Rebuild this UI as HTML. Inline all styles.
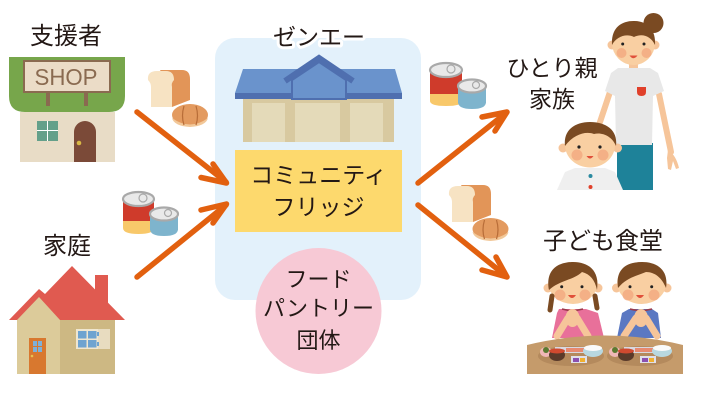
<!DOCTYPE html>
<html><head><meta charset="utf-8"><style>
html,body{margin:0;padding:0;background:#fff;}
svg{display:block;}
text{font-family:"Liberation Sans","Noto Sans CJK JP",sans-serif;fill:#231815;}
</style></head><body>
<svg width="710" height="400" viewBox="0 0 710 400" xmlns="http://www.w3.org/2000/svg">
<rect width="710" height="400" fill="#fff"/>

<!-- center blue panel -->
<rect x="215" y="38" width="206" height="262" rx="20" fill="#e3f1fb"/>

<!-- labels -->
<text x="66" y="44" font-size="24" text-anchor="middle">支援者</text>
<text x="67" y="254" font-size="24" text-anchor="middle">家庭</text>
<text x="319" y="45" font-size="23" text-anchor="middle" stroke="#fff" stroke-width="6" stroke-linejoin="round" paint-order="stroke">ゼンエー</text>
<text x="552" y="76" font-size="23" text-anchor="middle">ひとり親</text>
<text x="552" y="107" font-size="23" text-anchor="middle">家族</text>
<text x="603" y="249" font-size="24" text-anchor="middle">子ども食堂</text>

<!-- SHOP -->
<path d="M9,57 H125 V96 Q125,112 109,112 H25 Q9,112 9,96 Z" fill="#77a64b"/>
<rect x="20" y="112" width="95" height="50" fill="#e8dcc6"/>
<rect x="46" y="92" width="4" height="14" fill="#8a6a50"/>
<rect x="84" y="92" width="4" height="14" fill="#8a6a50"/>
<rect x="24" y="61" width="86" height="31" fill="#ebdcc7" stroke="#8a6a50" stroke-width="2"/>
<text x="66" y="85" font-size="23" text-anchor="middle" textLength="63" lengthAdjust="spacingAndGlyphs" style="fill:#8a6a50;font-family:'Liberation Sans',sans-serif">SHOP</text>
<rect x="37" y="121" width="21" height="20" fill="#fff"/>
<rect x="37" y="121" width="10" height="9" fill="#64a08a"/>
<rect x="48" y="121" width="10" height="9" fill="#64a08a"/>
<rect x="37" y="131" width="10" height="10" fill="#64a08a"/>
<rect x="48" y="131" width="10" height="10" fill="#64a08a"/>
<path d="M74,162 V132 A11,11 0 0 1 96,132 V162 Z" fill="#7b4a38"/>
<circle cx="79" cy="143" r="2.3" fill="#d8b845"/>

<!-- bread left -->
<g>
<path d="M160,70 H182 Q190,70 190,79 V100 L172,107 L165,78 Z" fill="#e29558"/>
<path d="M148,80 Q147,71 157,71 H166 Q174,71 174,80 Q171,83 172,87 V107 H151 V87 Q151,83 148,80 Z" fill="#f7e3c3"/>
<ellipse cx="190" cy="115" rx="18" ry="11" fill="#e39a5f"/>
<path d="M172,118 Q190,131 208,118 Q206,126 190,127 Q174,126 172,118 Z" fill="#f2c899"/>
<path d="M184,106 Q181,116 184,125 M196,106 Q199,116 196,125" stroke="#b86d38" stroke-width="1.2" fill="none"/>
</g>

<!-- bread right -->
<g>
<path d="M461,185 H483 Q491,185 491,194 V215 L473,222 L466,193 Z" fill="#e29558"/>
<path d="M449,195 Q448,186 458,186 H467 Q475,186 475,195 Q472,198 473,202 V222 H452 V202 Q452,198 449,195 Z" fill="#f7e3c3"/>
<ellipse cx="490.5" cy="229" rx="18" ry="11" fill="#e39a5f"/>
<path d="M472.5,232 Q490.5,245 508.5,232 Q506.5,240 490.5,241 Q474.5,240 472.5,232 Z" fill="#f2c899"/>
<path d="M484.5,220 Q481.5,230 484.5,239 M496.5,220 Q499.5,230 496.5,239" stroke="#b86d38" stroke-width="1.2" fill="none"/>
</g>

<!-- cans left -->
<g>
<rect x="123" y="199" width="31" height="22" fill="#cf3b2b"/>
<path d="M123,221 H154 V228 Q154,234 138.5,234 Q123,234 123,228 Z" fill="#f8c86a"/>
<ellipse cx="138.5" cy="199" rx="15.5" ry="7" fill="#e9e9e9" stroke="#a9a9a9" stroke-width="2.2"/>
<circle cx="143" cy="198" r="4" fill="none" stroke="#a9a9a9" stroke-width="1.2"/>
<rect x="150" y="214" width="28" height="16" fill="#7eb4cd"/>
<path d="M150,229 Q150,236 164,236 Q178,236 178,229 Z" fill="#7eb4cd"/>
<ellipse cx="164" cy="214" rx="14" ry="6.5" fill="#e9e9e9" stroke="#a9a9a9" stroke-width="2.2"/>
<circle cx="168" cy="213" r="3.5" fill="none" stroke="#a9a9a9" stroke-width="1.2"/>
</g>

<!-- cans right -->
<g>
<rect x="430" y="70" width="32" height="24" fill="#cf3b2b"/>
<path d="M430,94 H462 V101 Q462,106 446,106 Q430,106 430,101 Z" fill="#f8c86a"/>
<ellipse cx="446" cy="70" rx="16" ry="7" fill="#e9e9e9" stroke="#a9a9a9" stroke-width="2.2"/>
<circle cx="451" cy="69" r="4" fill="none" stroke="#a9a9a9" stroke-width="1.2"/>
<rect x="458" y="86" width="28" height="17" fill="#7eb4cd"/>
<path d="M458,102 Q458,109 472,109 Q486,109 486,102 Z" fill="#7eb4cd"/>
<ellipse cx="472" cy="86" rx="14" ry="6.5" fill="#e9e9e9" stroke="#a9a9a9" stroke-width="2.2"/>
<circle cx="476" cy="85" r="3.5" fill="none" stroke="#a9a9a9" stroke-width="1.2"/>
</g>

<!-- house -->
<g>
<rect x="95" y="275" width="13" height="30" fill="#e05a50"/>
<path d="M9,320 L39,289 L45,294 L72,266 L125,320 Z" fill="#e05a50"/>
<rect x="60" y="320" width="55" height="54" fill="#cdb883"/>
<path d="M17,320 L39,297 L60,320 V374 H17 Z" fill="#dccb9a"/>
<rect x="29" y="338" width="17" height="36" fill="#d8782f"/>
<rect x="33" y="341" width="4" height="5" fill="#7eb0d8"/>
<rect x="38" y="341" width="4" height="5" fill="#7eb0d8"/>
<rect x="33" y="347" width="4" height="5" fill="#7eb0d8"/>
<rect x="38" y="347" width="4" height="5" fill="#7eb0d8"/>
<circle cx="32" cy="356" r="1.3" fill="#e8c050"/>
<rect x="76" y="329" width="22" height="20" fill="#efe6d0"/>
<rect x="78" y="331" width="8.5" height="7.5" fill="#6ea3d0"/>
<rect x="88" y="331" width="8.5" height="7.5" fill="#6ea3d0"/>
<rect x="78" y="340" width="8.5" height="7.5" fill="#6ea3d0"/>
<rect x="88" y="340" width="8.5" height="7.5" fill="#6ea3d0"/>
<rect x="98" y="329" width="12" height="20" fill="#e8dcc0"/>
<rect x="97" y="332" width="2" height="4" fill="#6ea3d0"/>
<rect x="97" y="342" width="2" height="4" fill="#6ea3d0"/>
</g>

<!-- center building -->
<g>
<path d="M243,69 H395 L402,93 H235 Z" fill="#6a93cc"/>
<rect x="235" y="93" width="167" height="6" fill="#4f6faf"/>
<rect x="243" y="99" width="151" height="43" fill="#d8c9a0"/>
<rect x="252" y="103" width="33" height="39" fill="#e4dab9"/>
<rect x="295" y="103" width="45" height="39" fill="#e4dab9"/>
<rect x="350" y="103" width="33" height="39" fill="#e4dab9"/>
<path d="M292,80 L319,62 L346,80 V99 H292 Z" fill="#6a93cc" stroke="#4f6faf" stroke-width="2"/>
<path d="M285,81 L319,58 L353,81" fill="none" stroke="#4f6faf" stroke-width="6" stroke-linejoin="miter"/>
</g>

<!-- yellow box -->
<rect x="235" y="150" width="167" height="82" fill="#fdd96d"/>
<text x="318.5" y="183" font-size="23" text-anchor="middle">コミュニティ</text>
<text x="318.5" y="215" font-size="23" text-anchor="middle">フリッジ</text>

<!-- pink circle -->
<circle cx="318.5" cy="311" r="63" fill="#f7c9d5"/>
<text x="318.5" y="287" font-size="22" text-anchor="middle">フード</text>
<text x="318.5" y="316" font-size="22" text-anchor="middle">パントリー</text>
<text x="318.5" y="348" font-size="22" text-anchor="middle">団体</text>

<!-- arrows -->
<g stroke="#e2600f" stroke-width="5.5" stroke-linecap="round" stroke-linejoin="round" fill="none">
<path d="M137,112 L226,182"/>
<path d="M213,164 L226.5,183 L201,177.5"/>
<path d="M137,277 L226,205"/>
<path d="M213,223 L226.5,204 L201,210"/>
<path d="M418,183 L506,113"/>
<path d="M482,117 L507,112 L495,131"/>
<path d="M418,205 L506,276"/>
<path d="M482,270 L507,277 L496,257"/>
</g>

<!-- mother -->
<g>
<path d="M610,92 L598,128" stroke="#f6c59a" stroke-width="6" stroke-linecap="round"/>
<path d="M659,94 L671,152" stroke="#f6c59a" stroke-width="6" stroke-linecap="round"/>
<path d="M668,150 Q676,155 679,168 L676,169 L673,161 L671,170 L668,169 L667,158 Z" fill="#f6c59a"/>
<rect x="617" y="143" width="36" height="47" fill="#1e8299"/>
<rect x="629" y="60" width="9" height="11" fill="#f6c59a"/>
<path d="M618,68 H650 L658,73 L664,91 L653,96 L652,145 H616 L615,96 L605,91 L611,73 Z" fill="#e8e8e8"/>
<path d="M637,87 H646 V92 Q646,96 641.5,96 Q637,96 637,92 Z" fill="#e0402a"/>
<circle cx="653.5" cy="23" r="10" fill="#7a4a22"/>
<circle cx="612" cy="45" r="4.5" fill="#f6c59a"/>
<circle cx="655" cy="45" r="4.5" fill="#f6c59a"/>
<ellipse cx="633.5" cy="43" rx="21.5" ry="22" fill="#f9cfa2"/>
<path d="M612,45 C611,28 621,21 633.5,21 C647,21 656,29 655,45 C651,36 642,33 634,37 C626,33 616,37 612,45 Z" fill="#7a4a22"/>
<circle cx="622.7" cy="44" r="1.5" fill="#222"/>
<circle cx="644" cy="44" r="1.5" fill="#222"/>
<circle cx="621.5" cy="53" r="5" fill="#f3a77f" opacity="0.8"/>
<circle cx="646.5" cy="53" r="5" fill="#f3a77f" opacity="0.8"/>
<path d="M629.5,55.5 Q633.5,61 637.5,55.5 Z" fill="#e0503a"/>
</g>

<!-- child -->
<g>
<path d="M575,168 H605 L615,172 L623,190 H557 L565,172 Z" fill="#efefef"/>
<circle cx="590.5" cy="176" r="2" fill="#2a8aa0"/>
<circle cx="590.5" cy="187" r="2" fill="#e0402a"/>
<circle cx="563" cy="148" r="4.5" fill="#f6c59a"/>
<circle cx="617.5" cy="148" r="4.5" fill="#f6c59a"/>
<ellipse cx="590" cy="145" rx="25" ry="22.5" fill="#f9cfa2"/>
<path d="M565,146 C563,130 575,122 590,122 C606,122 618,130 616,146 C612,136 602,132 594,134 C586,131 574,134 565,146 Z" fill="#7a4a22"/>
<circle cx="579" cy="147" r="1.6" fill="#222"/>
<circle cx="600" cy="147" r="1.6" fill="#222"/>
<circle cx="577" cy="155" r="5.5" fill="#f3a77f" opacity="0.8"/>
<circle cx="603" cy="155" r="5.5" fill="#f3a77f" opacity="0.8"/>
<path d="M586.5,156 Q590,161 593.5,156 Z" fill="#e0503a"/>
</g>

<!-- kids at table -->
<g>
<!-- girl -->
<path d="M559,309 H586 L598,313 L604,338 H552 L557,313 Z" fill="#e8709a"/>
<path d="M562,309 Q572,312 583,309" stroke="#9a3a4a" stroke-width="1.5" fill="none"/>
<path d="M557,336 L568,318 M588,336 L577,318" stroke="#f6c59a" stroke-width="7" stroke-linecap="round"/>
<ellipse cx="572.5" cy="318" rx="7" ry="9" fill="#f6c59a"/>
<circle cx="548" cy="288" r="4.5" fill="#f6c59a"/>
<circle cx="598" cy="288" r="4.5" fill="#f6c59a"/>
<ellipse cx="573" cy="283" rx="24.5" ry="21" fill="#f9cfa2"/>
<path d="M549,290 C545,268 560,262 573,262 C588,262 600,270 597,290 C595,280 590,274 582,272 C574,280 560,280 549,290 Z" fill="#7a4a22"/>
<path d="M552,296 L550,310 M595,296 L597,308" stroke="#7a4a22" stroke-width="5" stroke-linecap="round"/>
<circle cx="561.7" cy="286.7" r="1.5" fill="#222"/>
<circle cx="582" cy="286.7" r="1.5" fill="#222"/>
<circle cx="560" cy="295" r="5.5" fill="#f3a77f" opacity="0.8"/>
<circle cx="585" cy="295" r="5.5" fill="#f3a77f" opacity="0.8"/>
<path d="M568,295 Q572,301 576,295 Z" fill="#e0503a"/>
<!-- boy -->
<path d="M629,309 H652 L658,313 L661,338 H617 L622,313 Z" fill="#5b78c2"/>
<path d="M630,309 Q641,312 652,309" stroke="#9a3a4a" stroke-width="1.5" fill="none"/>
<path d="M624,336 L636,318 M657,336 L646,318" stroke="#f6c59a" stroke-width="7" stroke-linecap="round"/>
<ellipse cx="641" cy="318" rx="7" ry="9" fill="#f6c59a"/>
<circle cx="616.5" cy="288" r="4.5" fill="#f6c59a"/>
<circle cx="667" cy="288" r="4.5" fill="#f6c59a"/>
<ellipse cx="641.7" cy="283" rx="24.5" ry="21" fill="#f9cfa2"/>
<path d="M618,288 C615,268 628,262 642,262 C657,262 669,270 666,288 C662,278 655,272 646,272 C636,276 626,278 618,288 Z" fill="#7a4a22"/>
<circle cx="630" cy="286.7" r="1.5" fill="#222"/>
<circle cx="651.7" cy="286.7" r="1.5" fill="#222"/>
<circle cx="628" cy="295" r="5.5" fill="#f3a77f" opacity="0.8"/>
<circle cx="654" cy="295" r="5.5" fill="#f3a77f" opacity="0.8"/>
<path d="M636,295 Q640,301 644,295 Z" fill="#e0503a"/>
<!-- table -->
<path d="M527,345 Q605,326 683,345 V374 H527 Z" fill="#c59b6b"/>
<ellipse cx="571" cy="356" rx="33" ry="10" fill="#b48a5d"/>
<ellipse cx="640" cy="356" rx="33" ry="10" fill="#b48a5d"/>
<!-- setting 1 -->
<rect x="555" y="347" width="30" height="6" fill="#d8d8e0"/>
<rect x="566" y="348" width="18" height="4" fill="#e88a70"/>
<ellipse cx="546" cy="352" rx="6" ry="5" fill="#f0b8b8"/>
<circle cx="546" cy="350" r="3" fill="#5a7a30"/>
<ellipse cx="557" cy="355" rx="8" ry="6" fill="#5a3a2a"/>
<ellipse cx="557" cy="351" rx="8" ry="2.5" fill="#d04a30"/>
<ellipse cx="593" cy="351" rx="10" ry="6" fill="#b8d8e0"/>
<ellipse cx="593" cy="348" rx="9" ry="3" fill="#fafafa"/>
<rect x="571" y="356" width="16" height="7" fill="#e0e0ea"/>
<rect x="573" y="358" width="6" height="4" fill="#8a50b0"/>
<rect x="580" y="358" width="5" height="4" fill="#f0b030"/>
<!-- setting 2 -->
<rect x="624" y="347" width="30" height="6" fill="#d8d8e0"/>
<rect x="635" y="348" width="18" height="4" fill="#e88a70"/>
<ellipse cx="615" cy="352" rx="6" ry="5" fill="#f0b8b8"/>
<circle cx="615" cy="350" r="3" fill="#5a7a30"/>
<ellipse cx="626" cy="355" rx="8" ry="6" fill="#5a3a2a"/>
<ellipse cx="626" cy="351" rx="8" ry="2.5" fill="#d04a30"/>
<ellipse cx="662" cy="351" rx="10" ry="6" fill="#b8d8e0"/>
<ellipse cx="662" cy="348" rx="9" ry="3" fill="#fafafa"/>
<rect x="640" y="356" width="16" height="7" fill="#e0e0ea"/>
<rect x="642" y="358" width="6" height="4" fill="#8a50b0"/>
<rect x="649" y="358" width="5" height="4" fill="#f0b030"/>
</g>
</svg>
</body></html>
